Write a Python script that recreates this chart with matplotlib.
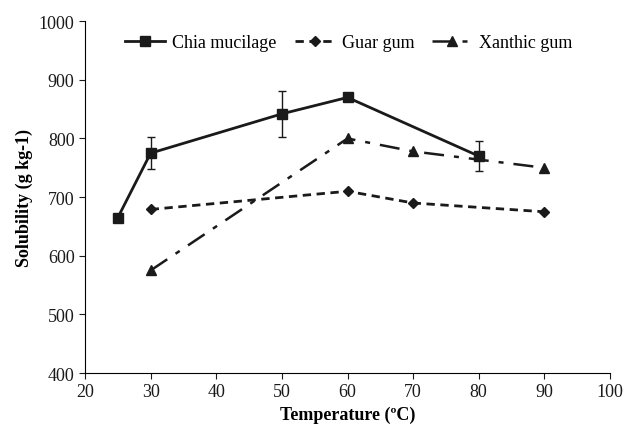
import matplotlib.pyplot as plt

plt.rcParams["font.family"] = "Liberation Serif"
plt.rcParams["font.size"] = 13

# data
temp_chia = [25, 30, 50, 60, 80]
chia = [665, 775, 842, 870, 770]
chia_err = [0, 27, 39, 0, 26]

temp_guar = [30, 60, 70, 90]
guar = [679, 710, 690, 675]

temp_xan = [30, 60, 70, 90]
xanthic = [575, 800, 778, 750]

fig = plt.figure(figsize=(6.25, 4.27), dpi=100)
ax = fig.add_axes([0.136, 0.124, 0.840, 0.824])

col = "#1a1a1a"
ax.errorbar(temp_chia, chia, yerr=chia_err, fmt="none", capsize=3,
            elinewidth=1.0, ecolor=col)
ax.plot(temp_chia, chia, color=col, lw=2.0, marker="s", ms=7,
        label="Chia mucilage")
ax.plot(temp_guar, guar, color=col, lw=2.0, ls=(0, (3, 2)), marker="D",
        ms=5, label="Guar gum")
ax.plot(temp_xan, xanthic, color=col, lw=1.8, ls=(0, (8, 4, 2, 4)),
        marker="^", ms=7, label="Xanthic gum")

ax.set_xlim(20, 100)
ax.set_ylim(400, 1000)
ax.set_xticks(range(20, 101, 10))
ax.set_yticks(range(400, 1001, 100))
ax.spines["top"].set_visible(False)
ax.spines["right"].set_visible(False)
ax.tick_params(direction="out", length=4, colors=col, labelsize=13)

ax.set_xlabel("Temperature (ºC)", fontweight="bold", fontsize=13)
ax.set_ylabel("Solubility (g kg-1)", fontweight="bold", fontsize=13)

ax.legend(loc="upper center", bbox_to_anchor=(0.503, 1.01), ncol=3,
          frameon=False, handlelength=2.2, columnspacing=1.0,
          handletextpad=0.4, fontsize=13)

fig.savefig("out.png", dpi=100)
